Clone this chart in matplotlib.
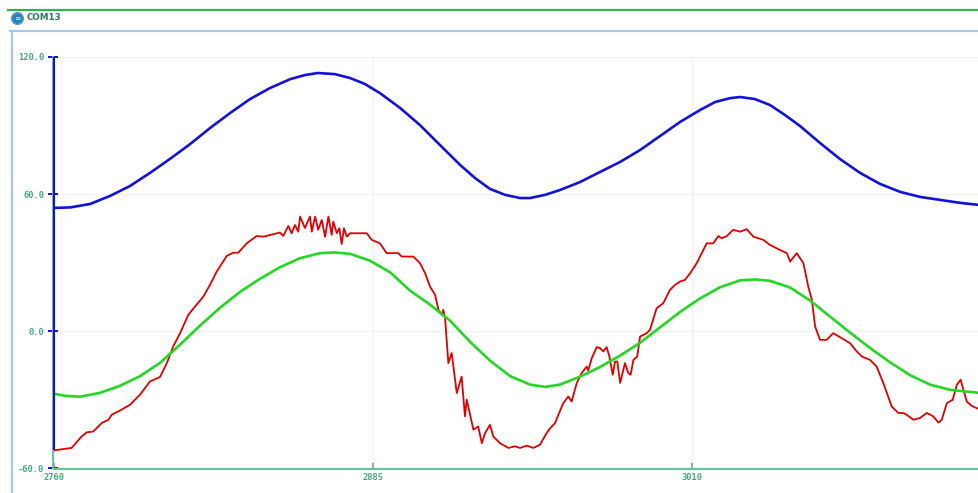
import matplotlib.pyplot as plt
from matplotlib.lines import Line2D

# values
blue_x = [2760.2, 2766.5, 2774.3, 2782.1, 2790.0, 2797.8, 2805.6, 2813.5, 2821.3, 2829.2,
          2837.0, 2844.8, 2852.7, 2858.5, 2863.6, 2870.3, 2876.2, 2882.0, 2887.9, 2895.8,
          2903.6, 2911.4, 2919.3, 2925.1, 2931.0, 2936.9, 2942.8, 2946.7, 2952.6, 2958.4,
          2966.3, 2974.1, 2982.0, 2989.8, 2997.6, 3005.5, 3013.3, 3019.2, 3025.1, 3029.0,
          3034.8, 3040.7, 3046.6, 3052.5, 3060.3, 3068.1, 3076.0, 3083.8, 3091.7, 3099.5,
          3107.3, 3115.2, 3122.6]
blue_y = [54.0, 54.2, 55.7, 59.2, 63.6, 69.3, 75.4, 81.9, 88.9, 95.5,
          101.6, 106.4, 110.3, 112.1, 113.0, 112.5, 110.8, 108.2, 104.2, 97.7,
          90.2, 81.5, 72.8, 67.1, 62.3, 59.7, 58.3, 58.3, 59.7, 61.8,
          65.3, 69.7, 74.1, 79.3, 85.4, 91.6, 96.8, 100.3, 102.0, 102.5,
          101.6, 99.0, 94.6, 89.8, 82.4, 75.4, 69.3, 64.5, 61.0, 58.8,
          57.5, 56.2, 55.3]

green_x = [2760.2, 2764.5, 2770.4, 2778.2, 2786.1, 2793.9, 2801.7, 2809.6, 2817.4, 2825.2,
           2833.1, 2840.9, 2848.7, 2856.6, 2864.4, 2870.3, 2876.2, 2884.0, 2891.9, 2899.7,
           2907.5, 2915.4, 2923.2, 2931.0, 2938.9, 2946.7, 2952.6, 2958.4, 2966.3, 2974.1,
           2982.0, 2989.8, 2997.6, 3005.5, 3013.3, 3021.2, 3029.0, 3034.8, 3040.7, 3048.5,
           3056.4, 3064.2, 3072.1, 3079.9, 3087.7, 3095.6, 3103.4, 3111.3, 3122.6]
green_y = [-27.3, -28.2, -28.6, -26.9, -23.8, -19.6, -13.8, -5.8, 2.5, 10.3,
           17.3, 23.0, 28.0, 32.0, 34.2, 34.5, 33.9, 30.9, 25.8, 17.8,
           11.7, 4.6, -4.6, -12.8, -19.6, -23.3, -24.3, -23.3, -19.8, -15.6,
           -10.6, -5.0, 1.7, 8.5, 14.4, 19.3, 22.3, 22.7, 22.1, 19.2,
           13.5, 6.5, -0.6, -7.3, -13.5, -19.2, -23.3, -25.6, -26.9]

red_x = [2760.0, 2767.1, 2771.0, 2773.0, 2775.6, 2778.9, 2781.5, 2782.8, 2786.1, 2790.0,
         2793.9, 2797.8, 2801.7, 2804.4, 2806.9, 2809.6, 2812.8, 2815.4, 2818.7, 2821.3,
         2823.9, 2827.9, 2830.4, 2832.4, 2835.7, 2839.6, 2842.2, 2848.7, 2850.0, 2852.0,
         2853.3, 2854.6, 2855.9, 2856.6, 2858.5, 2860.5, 2861.2, 2862.5, 2863.7, 2865.1,
         2866.4, 2867.7, 2869.0, 2869.6, 2871.0, 2872.0, 2872.9, 2873.8, 2874.9, 2876.2,
         2878.8, 2882.7, 2884.7, 2887.9, 2890.5, 2892.5, 2895.1, 2896.4, 2901.0, 2903.6,
         2905.6, 2907.5, 2909.5, 2910.8, 2912.1, 2912.7, 2913.4, 2914.7, 2916.0, 2918.0,
         2919.9, 2921.2, 2921.9, 2924.5, 2926.4, 2927.8, 2929.1, 2931.0, 2932.3, 2934.9,
         2938.2, 2940.8, 2942.8, 2945.4, 2948.0, 2950.6, 2953.2, 2954.5, 2956.5, 2959.7,
         2961.7, 2963.0, 2965.0, 2966.9, 2968.9, 2969.5, 2970.9, 2972.8, 2974.1, 2975.4,
         2976.7, 2977.8, 2979.1, 2980.0, 2980.9, 2982.0, 2983.9, 2985.2, 2986.1, 2987.2,
         2988.7, 2989.8, 2992.4, 2993.7, 2996.3, 2998.9, 3001.5, 3003.5, 3005.5, 3007.4,
         3009.4, 3012.0, 3015.9, 3018.5, 3020.5, 3021.8, 3023.8, 3026.3, 3029.0, 3031.6,
         3034.2, 3038.1, 3040.7, 3044.6, 3047.3, 3048.6, 3051.2, 3053.8, 3055.7, 3057.1,
         3058.4, 3060.3, 3062.9, 3065.5, 3068.8, 3072.1, 3074.7, 3076.7, 3079.9, 3082.5,
         3085.1, 3088.4, 3091.0, 3092.9, 3094.3, 3096.9, 3099.5, 3102.1, 3104.7, 3106.7,
         3108.0, 3110.0, 3112.3, 3113.9, 3115.4, 3117.8, 3119.7, 3122.6]
red_y = [-52.1, -51.0, -46.0, -44.2, -43.8, -40.1, -38.7, -36.5, -34.6, -32.1,
         -27.7, -21.9, -20.0, -13.9, -6.6, -0.8, 7.2, 10.8, 15.2, 20.3,
         26.1, 33.0, 34.4, 34.4, 38.5, 41.7, 41.4, 43.2, 41.7, 46.1,
         42.9, 46.5, 43.6, 50.2, 45.2, 50.2, 43.6, 50.2, 44.4, 48.7,
         41.4, 50.2, 42.2, 48.0, 42.9, 45.1, 38.2, 45.1, 41.4, 42.9,
         42.9, 42.9, 40.0, 38.5, 34.2, 34.2, 34.2, 32.7, 32.7, 29.8,
         25.4, 19.6, 16.0, 9.4, 7.2, 9.4, 5.8, -13.9, -9.5, -27.0,
         -19.8, -37.2, -29.9, -43.0, -41.6, -48.9, -44.5, -40.9, -46.0, -48.9,
         -51.0, -50.3, -51.0, -50.0, -51.0, -49.6, -44.5, -42.5, -40.1, -31.4,
         -28.5, -30.7, -22.6, -18.3, -15.4, -17.1, -11.7, -6.9, -7.3, -8.8,
         -6.9, -11.0, -19.0, -13.2, -13.2, -22.6, -13.9, -18.3, -19.0, -12.5,
         -11.0, -2.3, -0.8, 0.7, 10.1, 12.3, 18.1, 20.3, 21.8, 22.5,
         25.4, 29.8, 38.5, 38.5, 41.7, 40.7, 41.7, 44.4, 43.6, 44.7,
         41.4, 40.0, 37.8, 35.6, 34.2, 30.5, 34.2, 29.8, 19.6, 13.8,
         2.1, -3.7, -3.7, -0.8, -3.0, -5.2, -8.8, -11.0, -12.5, -15.4,
         -22.6, -32.9, -35.7, -35.7, -36.5, -38.7, -37.9, -35.7, -37.2, -39.9,
         -38.7, -31.4, -29.9, -23.4, -21.2, -30.7, -32.6, -34.0]

y_ticks = [-60, 0, 60, 120]
x_ticks = [2760, 2885, 3010]
x_start, x_end = 2760, 3122.6

W, H = 979, 493
teal = '#3fa97e'
axis_teal = '#6cc0a0'
blue = '#1212dc'
red = '#e00000'
green = '#22d822'

fig = plt.figure(figsize=(W / 100, H / 100), dpi=100)
fig.set_facecolor('white')

# window chrome
fig.add_artist(Line2D([8 / W, 1], [1 - 10 / H] * 2, color='#2fb34f', lw=1.6))
fig.add_artist(Line2D([10 / W, 1], [1 - 31 / H] * 2, color='#a9c8e4', lw=1.6))
fig.add_artist(Line2D([11.5 / W] * 2, [0, 1 - 31 / H], color='#a9c8e4', lw=1.6))
fig.add_artist(Line2D([17 / W], [1 - 18 / H], marker='o', markersize=8.5,
                      markerfacecolor='#2d7fb8', markeredgecolor='#5aa0d0', lw=0))
fig.text(17 / W, 1 - 18.5 / H, '∞', color='white', fontsize=5.5, ha='center', va='center')
fig.text(27 / W, 1 - 18 / H, 'COM13', color='#2a7a5c', fontsize=6.3, fontweight='bold',
         ha='left', va='center')

left, bottom, top = 53.5 / W, 1 - 468.5 / H, 1 - 57 / H
ax = fig.add_axes([left, bottom, 1 - left, top - bottom])

ax.plot(blue_x, blue_y, color=blue, lw=1.9, solid_joinstyle='round')
ax.plot(red_x, red_y, color=red, lw=1.3, solid_joinstyle='round')
ax.plot(green_x, green_y, color=green, lw=1.9, solid_joinstyle='round')

ax.set_xlim(x_start, x_end)
ax.set_ylim(-60, 120)

for s in ['top', 'right']:
    ax.spines[s].set_visible(False)
ax.spines['bottom'].set_color(axis_teal)
ax.spines['bottom'].set_linewidth(1.6)
ax.spines['left'].set_color(axis_teal)
ax.spines['left'].set_linewidth(1.4)
# blue part of the y axis line
ax.vlines(x_start, red_y[0], y_ticks[-1], color=blue, lw=1.5, clip_on=False, zorder=3)

ax.set_yticks(y_ticks)
ax.set_yticklabels([f'{v:.1f}' for v in y_ticks])
ax.set_xticks(x_ticks)
ax.set_xticklabels([str(v) for v in x_ticks])
ax.tick_params(axis='y', direction='inout', length=7, width=1.4, color=blue, pad=3,
               labelsize=6.3, labelcolor=teal)
ax.tick_params(axis='x', direction='in', length=4, width=1.4, color=axis_teal, pad=3,
               labelsize=6.3, labelcolor=teal)
ax.yaxis.get_major_ticks()[-1].tick1line.set_color('#22b84a')
ax.yaxis.get_major_ticks()[0].tick1line.set_color(axis_teal)
for lab in ax.get_xticklabels() + ax.get_yticklabels():
    lab.set_family('DejaVu Sans Mono')
    lab.set_fontweight('bold')

ax.grid(True, color='#f1f1f1', lw=1.0)
ax.set_axisbelow(True)
ax.set_facecolor('white')

fig.savefig('out.png', dpi=100, facecolor='white')
